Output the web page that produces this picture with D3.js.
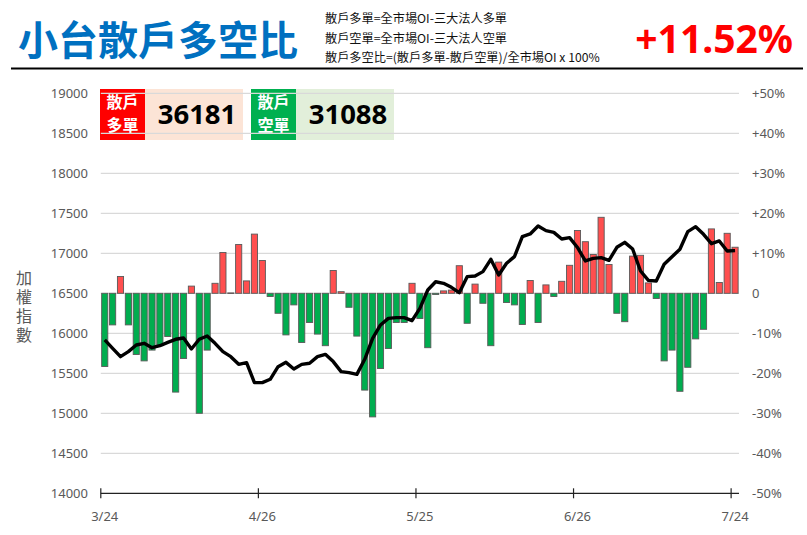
<!DOCTYPE html>
<html><head><meta charset="utf-8">
<script src="https://cdn.jsdelivr.net/npm/d3@7"></script>
<style>
html,body{margin:0;padding:0;background:#fff;}
svg{display:block;font-family:"Noto Sans CJK TC","Noto Sans",sans-serif;}
</style></head>
<body><svg id="c" width="807" height="535"></svg>
<script>
// ---- data ----
const dates = ["3/24","3/27","3/28","3/29","3/30","3/31",
"4/6","4/7","4/10","4/11","4/12","4/13","4/14","4/17","4/18","4/19","4/20","4/21","4/24","4/25","4/26",
"4/27","4/28","5/2","5/3","5/4","5/5","5/8","5/9","5/10","5/11","5/12","5/15","5/16","5/17","5/18","5/19","5/22","5/23","5/24","5/25",
"5/26","5/29","5/30","5/31","6/1","6/2","6/5","6/6","6/7","6/8","6/9","6/12","6/13","6/14","6/15","6/16","6/19","6/20","6/21","6/26",
"6/27","6/28","6/29","6/30","7/3","7/4","7/5","7/6","7/7","7/10","7/11","7/12","7/13","7/14","7/17","7/18","7/19","7/20","7/21","7/24"];
const ratio = [-18.3,-7.9,4.2,-7.9,-15.3,-16.9,-14.2,-13.1,-10.8,-24.7,-16.3,1.8,-30.0,-14.2,2.5,10.2,0.1,12.2,3.1,14.8,
8.2,-0.8,-5.0,-10.4,-2.9,-12.3,-7.3,-10.2,-13.1,5.7,0.4,-3.5,-10.7,-24.2,-30.9,-18.8,-13.8,-7.3,-7.3,2.5,
-6.3,-13.6,-0.3,0.6,0.8,6.9,-7.5,2.3,-2.5,-13.1,7.8,-2.3,-2.9,-7.8,3.2,-7.3,2.1,-0.8,3.0,7.0,
15.7,12.9,9.7,19.0,7.2,-5.0,-7.1,9.3,9.5,2.6,-1.3,-16.9,-14.2,-24.5,-18.5,-11.4,-9.0,16.1,2.7,15.0,11.52];
const taiex = [15917,15812,15708,15771,15854,15875,15820,15845,15887,15925,15941,15804,15925,15966,15875,15771,15708,15612,15633,15383,
15383,15425,15583,15637,15554,15612,15625,15708,15737,15646,15521,15508,15487,15675,15937,16104,16187,16196,16196,16158,
16312,16541,16644,16625,16575,16508,16708,16717,16771,16925,16729,16875,16958,17208,17242,17342,17283,17262,17179,17196,
17073,16904,16937,16946,16912,17075,17137,17054,16779,16662,16654,16862,16958,17050,17271,17333,17237,17120,17154,17029,17033];
const leftTicks = [14000,14500,15000,15500,16000,16500,17000,17500,18000,18500,19000];
const rightTicks = [-50,-40,-30,-20,-10,0,10,20,30,40,50];
const tickIdx = [0,20,40,60,80];
const longCount = "36181", shortCount = "31088", latest = "+11.52%";
const title = "小台散戶多空比";
const axisTitle = "加權指數";
const notes = ["散戶多單=全市場OI-三大法人多單","散戶空單=全市場OI-三大法人空單","散戶多空比=(散戶多單-散戶空單)/全市場OI x 100%"];

// ---- layout ----
const svg = d3.select("#c");
const X0 = 100.8, X1 = 739, YT = 93.3, YB = 493.3;
const x = d3.scaleBand().domain(d3.range(dates.length)).range([X0, X1]).paddingInner(0.22).paddingOuter(0.11);
const yL = d3.scaleLinear().domain([14000,19000]).range([YB, YT]);
const yR = d3.scaleLinear().domain([-50,50]).range([YB, YT]);
const step = x.step();

// header
svg.append("text").attr("x",18).attr("y",55).attr("fill","#0070C0").attr("font-size",40).attr("font-weight",700).text(title);
notes.forEach((t,i)=>svg.append("text").attr("x",325).attr("y",23+i*19.5).attr("font-size",12.2).attr("fill","#111").text(t));
svg.append("text").attr("x",793).attr("y",53).attr("text-anchor","end").attr("fill","#FF0000").attr("font-size",39).attr("font-weight",700)
  .attr("font-family","'Noto Sans',sans-serif").text(latest);
svg.append("line").attr("x1",11).attr("x2",803).attr("y1",68.5).attr("y2",68.5).attr("stroke","#000").attr("stroke-width",2.2);

// legend boxes (behind gridlines)
function legend(x0, c1, c2, l1, l2, val){
  svg.append("rect").attr("x",x0).attr("y",89).attr("width",45).attr("height",51).attr("fill",c1);
  svg.append("rect").attr("x",x0+45).attr("y",89).attr("width",98).attr("height",51).attr("fill",c2);
  svg.append("text").attr("x",x0+22.5).attr("y",108).attr("text-anchor","middle").attr("fill","#fff").attr("font-size",16).attr("font-weight",700).text(l1);
  svg.append("text").attr("x",x0+22.5).attr("y",131).attr("text-anchor","middle").attr("fill","#fff").attr("font-size",16).attr("font-weight",700).text(l2);
  svg.append("text").attr("x",x0+45+52).attr("y",124).attr("text-anchor","middle").attr("fill","#000").attr("font-size",27.5).attr("font-weight",700)
    .attr("font-family","'Noto Sans',sans-serif").text(val);
}
legend(100,"#FF0000","#FCE4D6","散戶","多單",longCount);
legend(251,"#00B050","#E2EFDA","散戶","空單",shortCount);

// gridlines
svg.append("g").selectAll("line").data(leftTicks.filter(v=>v>14000)).join("line")
  .attr("x1",X0).attr("x2",X1).attr("y1",d=>yL(d)).attr("y2",d=>yL(d)).attr("stroke","#d9d9d9").attr("stroke-width",1.3);

// left axis labels
svg.append("g").selectAll("text").data(leftTicks).join("text")
  .attr("x",88).attr("y",d=>yL(d)+4.5).attr("text-anchor","end").attr("font-size",13).attr("fill","#595959")
  .attr("font-family","'Noto Sans',sans-serif").text(d=>d);
// right axis labels
svg.append("g").selectAll("text").data(rightTicks).join("text")
  .attr("x",752).attr("y",d=>yR(d)+4.5).attr("font-size",13).attr("fill","#595959")
  .attr("font-family","'Noto Sans',sans-serif").text(d=>d>0?"+"+d+"%":(d===0?"0":d+"%"));
// axis title (vertical)
svg.append("text").attr("x",24).attr("y",270)
  .attr("style","writing-mode:vertical-rl;letter-spacing:3px")
  .attr("font-size",16).attr("fill","#595959").text(axisTitle);

// bars
svg.append("g").selectAll("rect").data(ratio).join("rect")
  .attr("x",(d,i)=>x(i)).attr("width",x.bandwidth())
  .attr("y",d=>Math.min(yR(d),yR(0))).attr("height",d=>Math.max(0.6,Math.abs(yR(d)-yR(0))))
  .attr("fill",d=>d>=0?"#FF4F4F":"#00AD4F").attr("stroke","#595959").attr("stroke-width",0.9);

// index line
svg.append("path").datum(taiex)
  .attr("d",d3.line().x((d,i)=>x(i)+x.bandwidth()/2).y(d=>yL(d)))
  .attr("fill","none").attr("stroke","#000").attr("stroke-width",3.4).attr("stroke-linejoin","round");

// x axis
svg.append("line").attr("x1",X0).attr("x2",X1).attr("y1",YB).attr("y2",YB).attr("stroke","#222").attr("stroke-width",1.3);
svg.append("g").selectAll("line").data(tickIdx).join("line")
  .attr("x1",d=>x(d)-(step-x.bandwidth())/2).attr("x2",d=>x(d)-(step-x.bandwidth())/2)
  .attr("y1",YB-5).attr("y2",YB+5).attr("stroke","#222").attr("stroke-width",1.2);
svg.append("g").selectAll("text").data(tickIdx).join("text")
  .attr("x",d=>x(d)+x.bandwidth()/2).attr("y",YB+28).attr("text-anchor","middle").attr("font-size",13).attr("fill","#595959")
  .attr("font-family","'Noto Sans',sans-serif").text(d=>dates[d]);
</script></body></html>
